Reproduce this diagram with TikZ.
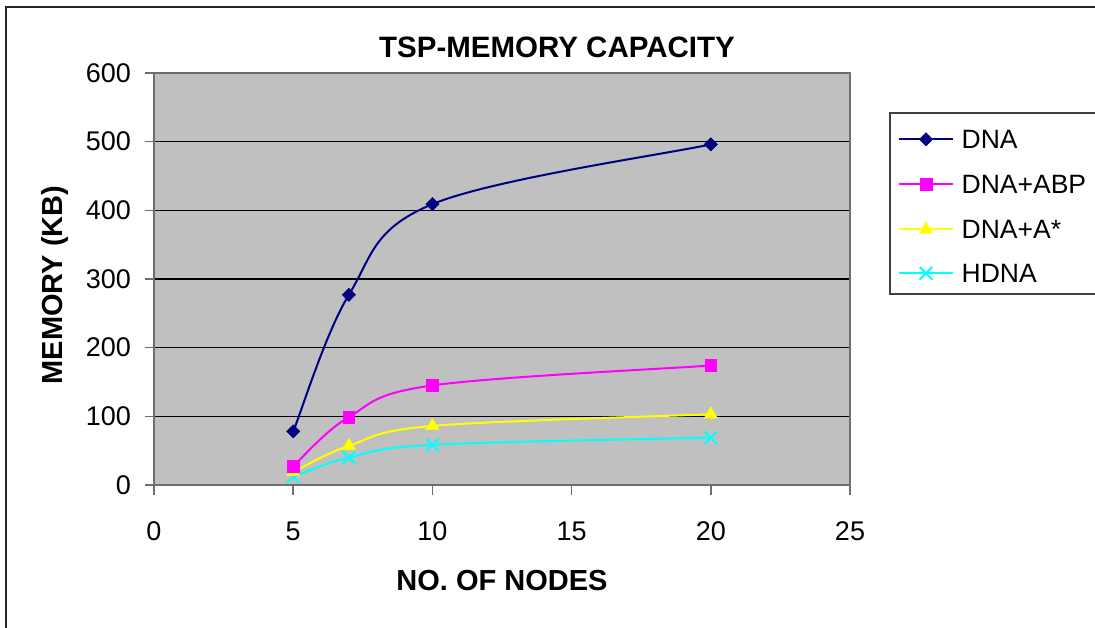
\documentclass[tikz,border=0pt]{standalone}
\usepackage{fontspec}
\setmainfont{Liberation Sans}
\usetikzlibrary{plotmarks}
\definecolor{navyc}{RGB}{0,0,128}
\definecolor{magc}{RGB}{255,0,255}
\definecolor{yelc}{RGB}{255,255,0}
\definecolor{cyac}{RGB}{0,255,255}
\definecolor{plotbg}{RGB}{192,192,192}
\definecolor{axisgray}{RGB}{110,110,110}
\tikzset{
  ticklabel/.style={inner sep=0pt, font=\fontsize{27}{30}\selectfont},
  legtext/.style={inner sep=0pt, anchor=west, font=\fontsize{26.5}{30}\selectfont},
  axtitle/.style={inner sep=0pt, font=\bfseries\fontsize{29}{33}\selectfont},
  gridline/.style={black, line width=1.3pt},
  axisline/.style={axisgray, line width=1.5pt},
  dnaline/.style={navyc, line width=2pt, mark options={solid, fill=navyc, draw=navyc, rotate=45, line width=0.5pt}},
  abpline/.style={magc, line width=2pt, mark options={fill=magc, draw=magc, line width=0.5pt}},
  astline/.style={yelc, line width=2pt, mark options={fill=yelc, draw=yelc, line width=0.5pt}},
  hdnaline/.style={cyac, line width=2pt, mark options={draw=cyac, line width=2pt}},
  dnamark/.style={mark=square*, mark size=4.7pt},
  abpmark/.style={mark=square*, mark size=5.8pt},
  astmark/.style={mark=triangle*, mark size=7.5pt},
  hdnamark/.style={mark=x, mark size=9pt},
}
\begin{document}
\begin{tikzpicture}[x=1pt,y=1pt]
\useasboundingbox (0,0) rectangle (1095,-627);
\fill[white] (0,0) rectangle (1095,-627);
\begin{scope}
  \clip (0,0) rectangle (1095,-627);
  \draw[black!85, line width=1.3pt] (6,-660) -- (6,-7) -- (1120,-7);
  \draw[black!75, line width=1.3pt] (890,-113) rectangle (1120,-294);
\end{scope}
% plot area
\fill[plotbg] (154,-73) rectangle (850,-485);
\foreach \v in {100,200,300,400,500}{
  \draw[gridline] (154,{-485+0.6867*\v}) -- (850,{-485+0.6867*\v});
}
\draw[axisline] (154,-485) rectangle (850,-73);
% y ticks and labels
\foreach \v in {0,100,200,300,400,500,600}{
  \draw[axisline] (145,{-485+0.6867*\v}) -- (154,{-485+0.6867*\v});
  \node[ticklabel, anchor=east] (yl\v) at (131,{-485+0.6867*\v}) {\v};
}
% x ticks and labels
\foreach \v in {0,5,10,15,20,25}{
  \draw[axisline] ({154+27.84*\v},-485) -- ({154+27.84*\v},-495);
  \node[ticklabel] (xl\v) at ({154+27.84*\v},-531.5) {\v};
}
% titles
\node[inner sep=0pt, font=\bfseries\fontsize{29.5}{33}\selectfont] (title) at (557,-47) {TSP-MEMORY CAPACITY};
\node[axtitle, rotate=90] (ytitle) at (55,-285) {MEMORY (KB)};
\node[axtitle] (xtitle) at (502,-581) {NO. OF NODES};
% data
\begin{scope}[shift={(154,-485)}, x=27.84pt, y=0.6867pt]
  \draw[hdnaline] (5,12) .. controls (5.333,16.67) and (6.167,32.25) .. (7,40)
                         .. controls (7.833,47.75) and (7.833,53.67) .. (10,58.5)
                         .. controls (12.167,63.33) and (18.333,67.25) .. (20,69);
  \path[hdnaline] plot[only marks, hdnamark] coordinates {(5,12) (7,40) (10,58.5) (20,69)};
  \draw[astline] (5,19) .. controls (5.333,25.33) and (6.167,45.83) .. (7,57)
                        .. controls (7.833,68.17) and (7.833,78.33) .. (10,86)
                        .. controls (12.167,93.67) and (18.333,100.17) .. (20,103);
  \path[astline] plot[only marks, astmark] coordinates {(5,19) (7,57) (10,86) (20,103)};
  \draw[abpline] (5,27.5) .. controls (5.333,39.42) and (6.167,79.42) .. (7,99)
                          .. controls (7.833,118.58) and (7.833,132.5) .. (10,145)
                          .. controls (12.167,157.5) and (18.333,169.17) .. (20,174);
  \path[abpline] plot[only marks, abpmark] coordinates {(5,27.5) (7,99) (10,145) (20,174)};
  \draw[dnaline] (5,78) .. controls (5.333,111.17) and (6.167,221.83) .. (7,277)
                        .. controls (7.833,332.17) and (7.833,372.5) .. (10,409)
                        .. controls (12.167,445.5) and (18.333,481.5) .. (20,496);
  \path[dnaline] plot[only marks, dnamark] coordinates {(5,78) (7,277) (10,409) (20,496)};
\end{scope}
% legend
\draw[dnaline] (899,-139.3) -- (953,-139.3) plot[dnamark] coordinates {(926,-139.3)};
\draw[abpline] (899,-184) -- (953,-184) plot[abpmark] coordinates {(926,-184)};
\draw[astline] (899,-229.3) -- (953,-229.3) plot[astmark] coordinates {(926,-229.3)};
\draw[hdnaline] (899,-273.3) -- (953,-273.3) plot[hdnamark] coordinates {(926,-273.3)};
\node[legtext] (l1) at (961.5,-139.3) {DNA};
\node[legtext] (l2) at (961.5,-184) {DNA+ABP};
\node[legtext] (l3) at (961.5,-229.3) {DNA+A*};
\node[legtext] (l4) at (961.5,-273.3) {HDNA};
\end{tikzpicture}
\end{document}
